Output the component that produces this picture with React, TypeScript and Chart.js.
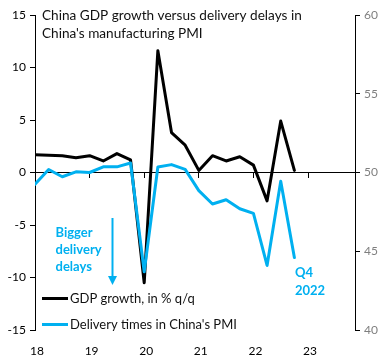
import React, { useEffect, useRef } from 'react';
import { Chart, registerables } from 'chart.js';

Chart.register(...registerables);

const quarters = [
  '2018Q1', '2018Q2', '2018Q3', '2018Q4',
  '2019Q1', '2019Q2', '2019Q3', '2019Q4',
  '2020Q1', '2020Q2', '2020Q3', '2020Q4',
  '2021Q1', '2021Q2', '2021Q3', '2021Q4',
  '2022Q1', '2022Q2', '2022Q3', '2022Q4',
];
const gdpGrowth = [1.7, 1.65, 1.6, 1.4, 1.6, 1.1, 1.8, 1.2, -10.5, 11.6, 3.8, 2.6, 0.2, 1.6, 1.1, 1.5, 0.7, -2.7, 4.9, 0.2];
const deliveryTimes = [49.25, 50.19, 49.73, 50.04, 50.0, 50.36, 50.36, 50.6, 43.7, 50.35, 50.5, 50.2, 48.85, 48.0, 48.27, 47.7, 47.4, 44.1, 49.45, 44.6];
const leftTicks = [-15, -10, -5, 0, 5, 10, 15];
const rightTicks = [40, 45, 50, 55, 60];
const yearTicks = [2018, 2019, 2020, 2021, 2022, 2023];
const titleLines = ['China GDP growth versus delivery delays in', "China's manufacturing PMI"];
const legendLabels = ['GDP growth, in % q/q', "Delivery times in China's PMI"];
const annotationLines = ['Bigger', 'delivery', 'delays'];
const endLabelLines = ['Q4', '2022'];

const BLUE = '#00B0F0';
const BLACK = '#000000';
const FONT = 'Lato';

const xOf = (q: string) => parseInt(q.slice(0, 4), 10) + (parseInt(q.slice(5), 10) - 1) / 4;

const overlayPlugin = {
  id: 'overlay',
  afterDatasetsDraw(chart: any) {
    const ctx = chart.ctx;
    ctx.save();
    ctx.textBaseline = 'alphabetic';
    ctx.textAlign = 'left';
    // title
    ctx.fillStyle = '#111111';
    ctx.font = `13.6px ${FONT}`;
    titleLines.forEach((t, i) => ctx.fillText(t, 42, 20 + i * 18));
    // legend
    const ds = chart.data.datasets;
    const legendY = [298.5, 324.5];
    legendLabels.forEach((t, i) => {
      const d = ds.find((x: any) => x.label === t);
      ctx.strokeStyle = d.borderColor;
      ctx.lineWidth = 3;
      ctx.beginPath();
      ctx.moveTo(42, legendY[i]);
      ctx.lineTo(68, legendY[i]);
      ctx.stroke();
      ctx.fillStyle = '#111111';
      ctx.font = `13px ${FONT}`;
      ctx.fillText(t, 70, legendY[i] + 4.5);
    });
    // annotation
    ctx.fillStyle = BLUE;
    ctx.font = `bold 13px ${FONT}`;
    annotationLines.forEach((t, i) => ctx.fillText(t, 55.5, 236.5 + i * 17));
    ctx.strokeStyle = BLUE;
    ctx.lineWidth = 2;
    ctx.beginPath();
    ctx.moveTo(112.5, 218);
    ctx.lineTo(112.5, 277);
    ctx.stroke();
    ctx.beginPath();
    ctx.moveTo(108, 276);
    ctx.lineTo(117, 276);
    ctx.lineTo(112.5, 285);
    ctx.closePath();
    ctx.fill();
    endLabelLines.forEach((t, i) => ctx.fillText(t, 295, 276.5 + i * 18.5));
    ctx.restore();
  },
};

export default function App() {
  const canvasRef = useRef<HTMLCanvasElement | null>(null);

  useEffect(() => {
    const canvas = canvasRef.current;
    if (!canvas) return;
    const setTicks = (vals: number[]) => (s: any) => {
      s.ticks = vals.map((v) => ({ value: v }));
    };
    const chart = new Chart(canvas, {
      type: 'line',
      data: {
        datasets: [
          {
            label: legendLabels[0],
            data: quarters.map((q, i) => ({ x: xOf(q), y: gdpGrowth[i] })),
            borderColor: BLACK,
            backgroundColor: BLACK,
            borderWidth: 3,
            borderJoinStyle: 'round',
            borderCapStyle: 'round',
            pointRadius: 0,
            tension: 0,
            xAxisID: 'x',
            yAxisID: 'yL',
            order: 1,
          },
          {
            label: legendLabels[1],
            data: quarters.map((q, i) => ({ x: xOf(q), y: deliveryTimes[i] })),
            borderColor: BLUE,
            backgroundColor: BLUE,
            borderWidth: 3,
            borderJoinStyle: 'round',
            borderCapStyle: 'round',
            pointRadius: 0,
            tension: 0,
            xAxisID: 'x',
            yAxisID: 'yR',
            order: 0,
          },
        ],
      },
      options: {
        responsive: false,
        animation: false,
        devicePixelRatio: 1,
        layout: { padding: { top: 15, left: 0, right: 0, bottom: 0 } },
        plugins: { legend: { display: false }, tooltip: { enabled: false }, title: { display: false } },
        scales: {
          x: {
            type: 'linear',
            position: 'bottom',
            min: 2018,
            max: 2023.86,
            afterBuildTicks: setTicks(yearTicks),
            grid: { display: false, drawTicks: false },
            border: { display: false },
            ticks: {
              callback: (v: any) => String(v).slice(2),
              color: '#000000',
              font: { family: FONT, size: 12 },
              padding: 14,
              maxRotation: 0,
              labelOffset: 2,
            },
            afterFit: (s: any) => {
              s.height = 31;
            },
          },
          x0: {
            type: 'linear',
            position: { yL: 0 } as any,
            min: 2018,
            max: 2023.86,
            afterBuildTicks: setTicks(yearTicks),
            grid: { drawOnChartArea: false, drawTicks: true, tickLength: 5, color: '#000000', lineWidth: 1 },
            border: { display: true, color: '#000000', width: 1 },
            ticks: { display: false },
          },
          yL: {
            type: 'linear',
            position: 'left',
            min: -15,
            max: 15,
            afterBuildTicks: setTicks(leftTicks),
            grid: { drawOnChartArea: false, drawTicks: true, tickLength: 5, color: '#000000' },
            border: { display: true, color: '#000000', width: 1 },
            ticks: { color: '#000000', font: { family: FONT, size: 12 }, padding: 4 },
            afterFit: (s: any) => {
              s.width = 35;
            },
          },
          yR: {
            type: 'linear',
            position: 'right',
            min: 40,
            max: 60,
            afterBuildTicks: setTicks(rightTicks),
            grid: { drawOnChartArea: false, drawTicks: true, tickLength: 5, color: '#000000' },
            border: { display: true, color: '#000000', width: 1 },
            ticks: { color: '#7f7f7f', font: { family: FONT, size: 12 }, padding: 4 },
            afterFit: (s: any) => {
              s.width = 30;
            },
          },
        },
      },
      plugins: [overlayPlugin],
    });
    return () => chart.destroy();
  }, []);

  return (
    <div style={{ position: 'absolute', left: 0, top: 0, width: 385, height: 361, background: '#ffffff' }}>
      <canvas ref={canvasRef} width={385} height={361} style={{ display: 'block', width: 385, height: 361 }} />
    </div>
  );
}
